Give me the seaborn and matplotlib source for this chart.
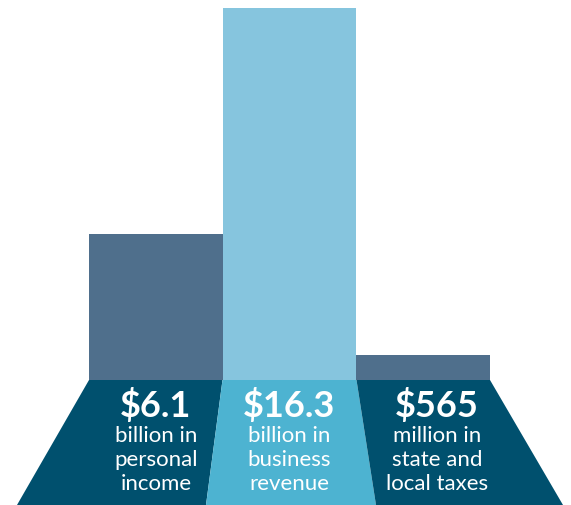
import numpy as np
import pandas as pd
import matplotlib
matplotlib.use('Agg')
import matplotlib.pyplot as plt
import seaborn as sns

# values
categories = ['personal income', 'business revenue', 'state and local taxes']
bar_heights = [6.4, 16.3, 1.1]   # bar heights (relative units)
amounts = ['$6.1', '$16.3', '$565']
captions = ['billion in\npersonal\nincome', 'billion in\nbusiness\nrevenue', 'million in\nstate and\nlocal taxes']

bar_colors = ['#4f6f8c', '#86c5de', '#4f6f8c']
base_colors = ['#00506e', '#4db3d1', '#00506e']

sns.set_style('white')
plt.rcParams['font.family'] = ['Lato', 'DejaVu Sans']

W, H = 571, 506
fig = plt.figure(figsize=(W / 100, H / 100), dpi=100)

# bars
base_px = 125
ax = fig.add_axes([0, base_px / H, 1, 1 - base_px / H])
df = pd.DataFrame({'cat': categories, 'h': bar_heights})
sns.barplot(data=df, x='cat', y='h', hue='cat', palette=bar_colors, width=1.0,
            legend=False, saturation=1, linewidth=0, ax=ax)
bw = 133.5
cx0 = 156
ax.set_xlim(-cx0 / bw, (W - cx0) / bw)
ax.set_ylim(0, 16.3 * (H - base_px) / 372)
ax.axis('off')

# base trapezoids with labels
ax2 = fig.add_axes([0, 0, 1, base_px / H])
ax2.set_xlim(0, W)
ax2.set_ylim(0, base_px)
ax2.axis('off')
top_x = [89, 222.5, 356.5, 490]
bot_x = [17, 206, 376, 563]
for i in range(3):
    xs = [bot_x[i], bot_x[i + 1], top_x[i + 1], top_x[i]]
    ys = [0, 0, base_px, base_px]
    ax2.fill(xs, ys, color=base_colors[i], lw=0)

centers = [156, 289, 437]
for i in range(3):
    ax2.text(centers[i], 100, amounts[i], ha='center', va='center',
             color='white', fontsize=26, fontweight='bold')
    ax2.text(centers[i], 46, captions[i], ha='center', va='center',
             color='white', fontsize=16, linespacing=1.27)

fig.savefig('out.png', dpi=100)
